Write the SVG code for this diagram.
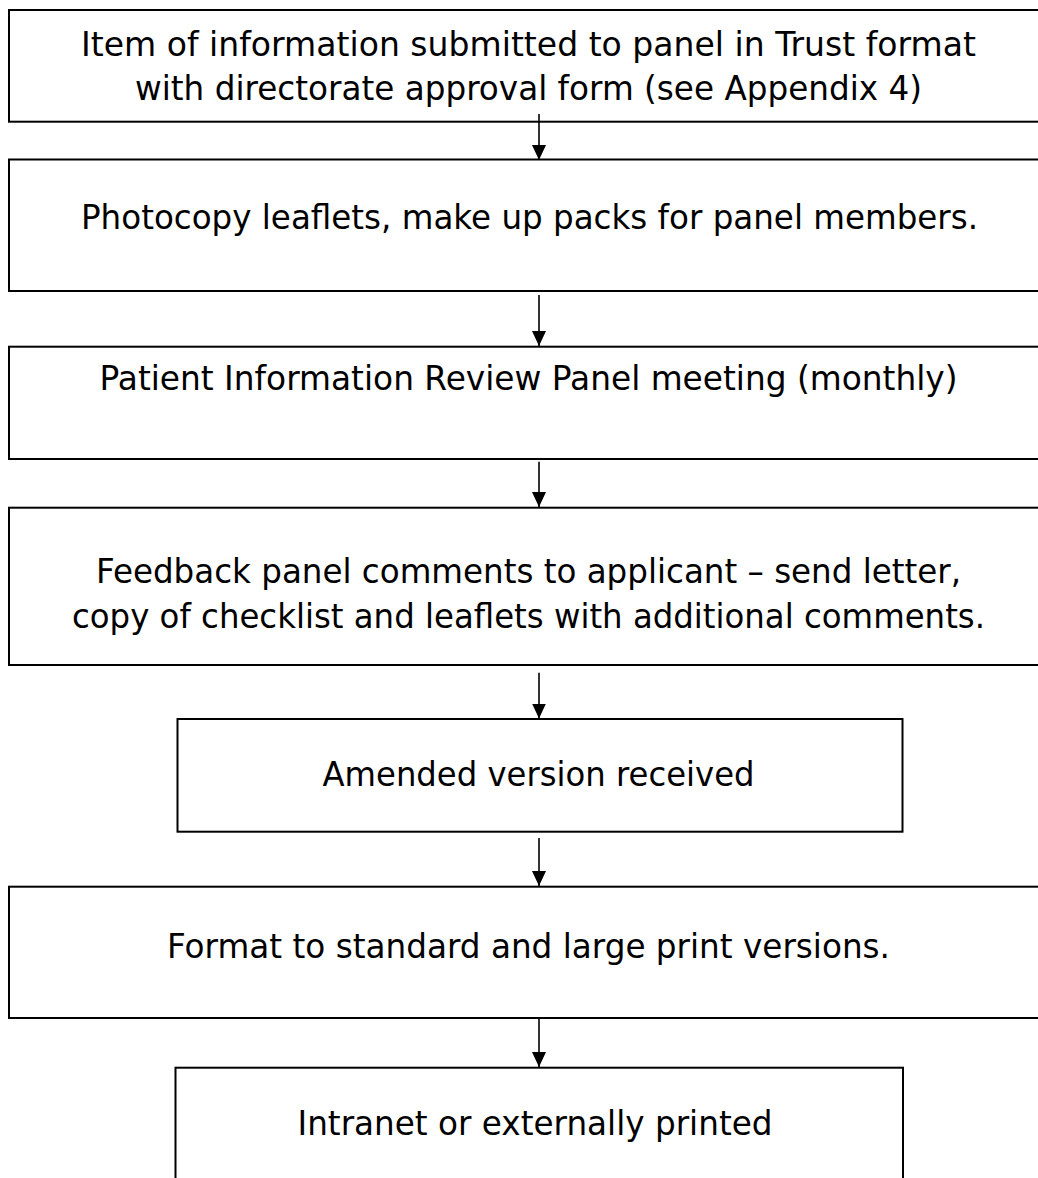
<svg xmlns="http://www.w3.org/2000/svg" width="1038" height="1178" viewBox="0 0 1038 1178">
<style>
.box{fill:#fff;stroke:#000;stroke-width:2}
.lbl{font-family:"DejaVu Sans","Liberation Sans",sans-serif;font-size:34px;fill:#000;text-anchor:middle}
.conn{stroke:#000;stroke-width:1.6;fill:none}
</style>
<defs>
<marker id="ah" markerUnits="userSpaceOnUse" markerWidth="15" markerHeight="14" viewBox="0 0 15 14" refX="15" refY="7" orient="auto">
<path d="M0,0 L15,7 L0,14 Z" fill="#000"/>
</marker>
</defs>
<rect width="1038" height="1178" fill="#fff"/>
<g id="n1"><rect class="box" x="9" y="10" width="1060" height="111.7"/>
<text class="lbl" x="528.5" y="56" textLength="895" lengthAdjust="spacingAndGlyphs">Item of information submitted to panel in Trust format</text>
<text class="lbl" x="528.5" y="100" textLength="787" lengthAdjust="spacingAndGlyphs">with directorate approval form (see Appendix 4)</text></g>
<g id="n2"><rect class="box" x="9" y="159.5" width="1060" height="131.5"/>
<text class="lbl" x="529.5" y="229" textLength="897" lengthAdjust="spacingAndGlyphs">Photocopy leaflets, make up packs for panel members.</text></g>
<g id="n3"><rect class="box" x="9" y="346.7" width="1060" height="112.3"/>
<text class="lbl" x="528.5" y="390" textLength="858" lengthAdjust="spacingAndGlyphs">Patient Information Review Panel meeting (monthly)</text></g>
<g id="n4"><rect class="box" x="9" y="507.7" width="1060" height="157.3"/>
<text class="lbl" x="528.5" y="583" textLength="865" lengthAdjust="spacingAndGlyphs">Feedback panel comments to applicant – send letter,</text>
<text class="lbl" x="528.5" y="628" textLength="913" lengthAdjust="spacingAndGlyphs">copy of checklist and leaflets with additional comments.</text></g>
<g id="n5"><rect class="box" x="177.5" y="719" width="725" height="112.7"/>
<text class="lbl" x="538.5" y="786" textLength="432" lengthAdjust="spacingAndGlyphs">Amended version received</text></g>
<g id="n6"><rect class="box" x="9" y="886.7" width="1060" height="131.3"/>
<text class="lbl" x="528.5" y="957.5" textLength="723" lengthAdjust="spacingAndGlyphs">Format to standard and large print versions.</text></g>
<g id="n7"><rect class="box" x="175.5" y="1067.7" width="727.5" height="200"/>
<text class="lbl" x="535" y="1135" textLength="475" lengthAdjust="spacingAndGlyphs">Intranet or externally printed</text></g>
<g id="connectors">
<line class="conn" x1="539" y1="114" x2="539" y2="160" marker-end="url(#ah)"/>
<line class="conn" x1="539" y1="295" x2="539" y2="346" marker-end="url(#ah)"/>
<line class="conn" x1="539" y1="461.7" x2="539" y2="507" marker-end="url(#ah)"/>
<line class="conn" x1="539" y1="672.7" x2="539" y2="718.5" marker-end="url(#ah)"/>
<line class="conn" x1="539" y1="838" x2="539" y2="886" marker-end="url(#ah)"/>
<line class="conn" x1="539" y1="1019" x2="539" y2="1067" marker-end="url(#ah)"/>
</g>
</svg>
